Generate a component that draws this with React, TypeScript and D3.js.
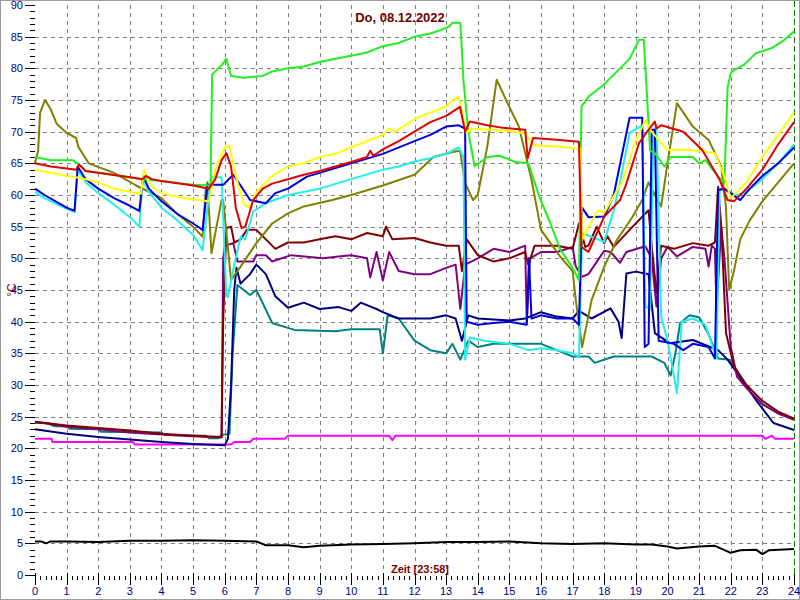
import React from "react";
import * as d3 from "d3";

type P = [number, number];

const yTicks = [0, 5, 10, 15, 20, 25, 30, 35, 40, 45, 50, 55, 60, 65, 70, 75, 80, 85, 90];
const xTicks = d3.range(0, 25);
const title = "Do, 08.12.2022";
const xTitle = "Zeit [23:58]";
const yTitle = "°C";

const green: P[] = [[0,66],[0.5,65.5],[1.2,65.5],[1.4,64.8],[1.6,63.8],[2,63.5],[3,62.8],[3.4,62.5],[4,62.2],[5,61.6],[5.55,61.5],[5.6,79],[5.9,80.5],[6.05,81.5],[6.2,78.8],[6.6,78.5],[7.2,78.8],[7.5,79.5],[8,80],[8.5,80.3],[9,81],[9.5,81.5],[10,82],[10.5,82.5],[11,83.5],[11.5,84],[12,85],[12.5,85.5],[12.8,86],[13.1,86.6],[13.2,87.2],[13.45,87.2],[13.55,78],[13.7,70],[13.9,64.5],[14.3,66],[14.7,66.2],[15.2,65.2],[15.6,65],[15.95,59.7],[16.3,55.5],[16.6,51.5],[17.0,48.5],[17.2,46.5],[17.28,74],[17.5,75.5],[18,77.5],[18.5,80],[18.8,81.5],[19.1,84.5],[19.25,84.5],[19.45,67],[19.6,66.6],[19.9,64.5],[20.1,66],[20.8,66],[21,65],[21.2,65.5],[21.6,62.9],[21.8,62],[21.9,77],[22.0,79.2],[22.1,79.7],[22.4,80.5],[22.8,82.4],[23.3,83.2],[23.7,84.5],[24,85.8]];
const yellow: P[] = [[0,64],[0.5,63.5],[1,63],[1.3,62.8],[1.6,62.5],[2,62],[2.5,61],[3,60.5],[3.35,60.2],[3.45,64],[3.65,61.5],[4,60.3],[4.5,59.7],[5,59.3],[5.5,59],[5.7,64],[6.0,67.5],[6.15,67.8],[6.35,63],[6.6,58.5],[6.8,58],[7.0,60.5],[7.5,63],[8,64.5],[8.5,65],[9,66],[9.5,66.5],[10,67.5],[10.5,68.5],[11,69.5],[11.2,70.5],[11.4,70],[12,72],[12.5,73],[13,74],[13.2,75],[13.4,75.5],[13.55,72],[13.65,69.8],[13.8,70.5],[14.8,70.2],[15.5,69.7],[15.75,67.9],[16.6,67.6],[17.25,67.3],[17.3,52.9],[17.5,55],[17.8,57.6],[18.0,57.2],[18.6,62.4],[19,68.7],[19.3,71.8],[19.5,70],[20,67.1],[20.3,67.2],[21,67],[21.5,66.6],[21.8,62.9],[22,59.5],[22.5,62],[23,66],[23.5,69.5],[24,73.1]];
const red: P[] = [[0,65],[0.5,64.5],[1,64.2],[1.3,64],[1.4,64.8],[1.6,63.8],[2,63.5],[3,62.8],[3.4,62.5],[3.5,63],[3.7,62.5],[4,62.2],[5,61.5],[5.5,61],[5.7,62.5],[5.9,65.5],[6.05,66.6],[6.2,64.5],[6.35,58],[6.53,54.8],[6.65,55],[6.9,59.2],[7.2,61],[7.5,61.8],[8,62.5],[8.5,63.2],[9,63.8],[9.5,64.5],[10,65.2],[10.5,66],[10.6,67],[10.7,66.2],[11,67.2],[11.5,68.5],[12,70],[12.5,71.5],[13,72.5],[13.44,73.9],[13.6,70],[13.75,71.6],[14.3,71],[14.8,70.6],[15.5,70.3],[15.58,65.8],[15.75,69],[16.6,68.7],[17.2,68.4],[17.28,51.8],[17.5,51],[18,56.6],[18.5,59.2],[18.7,61.8],[19.1,68.2],[19.4,70.3],[19.6,71.6],[19.65,70.5],[19.8,71],[20.5,70],[21.1,67.1],[21.65,62.4],[21.9,59.2],[22.1,59],[22.5,61],[23,64],[23.5,68],[24,71.5]];
const blue: P[] = [[0,61],[0.3,60],[1,58],[1.25,57.5],[1.35,64.5],[1.6,62.5],[2,61],[2.5,59.5],[3,58.3],[3.3,57.5],[3.42,63],[3.6,61],[4,59],[4.5,57],[5,55.5],[5.3,54.5],[5.45,61.6],[5.95,61.6],[6.27,63.2],[6.5,61.5],[6.8,59.2],[7.3,58.7],[7.6,60.3],[8,61],[8.6,62.9],[9,63.5],[10,65],[11,66.5],[12,68.5],[12.5,69.5],[13,70.8],[13.4,71],[13.6,70.5],[13.65,40],[14,39.5],[14.5,39.8],[15,40],[15.55,39.5],[15.62,50],[15.7,40.5],[16,41],[16.5,40.5],[17,40.5],[17.2,39.5],[17.3,58],[17.5,56.5],[18,56.6],[18.3,60],[18.8,72.2],[19.2,72.2],[19.28,36],[19.4,36.5],[19.5,70.3],[19.6,70.3],[19.72,37],[20.2,36.5],[20.5,35.5],[20.8,36.5],[21.3,36],[21.5,34.2],[21.6,60.8],[21.8,61],[22.3,59.2],[22.6,61],[23,63],[23.5,65],[24,67.5]];
const cyan: P[] = [[0,60.5],[0.3,59.5],[1,57.8],[1.25,57.3],[1.35,64],[1.6,62],[2,60.3],[2.5,58.5],[3,56.5],[3.3,55],[3.4,62.5],[3.6,60.5],[4,58],[4.5,56],[5,53.7],[5.3,51.3],[5.5,60],[5.6,62.8],[5.9,62.8],[6.05,44],[6.1,43.9],[6.3,49],[6.5,53.4],[6.65,53],[6.9,57.4],[7.3,58.7],[8,60],[9,61],[10,62.5],[11,64],[11.5,64.5],[12,65.3],[12.5,65.8],[13,66.5],[13.4,67.5],[13.55,66],[13.6,34],[13.75,37.5],[14.2,37],[15,36.5],[15.6,35.5],[16,35.8],[16.5,35.5],[17,35],[17.2,34.5],[17.3,54],[18,52.6],[18.3,57.6],[18.5,62],[18.8,69.8],[19.2,71],[19.3,42.4],[19.45,42],[19.55,69.2],[19.65,71],[19.8,40.8],[20,37],[20.3,28.7],[20.45,40],[20.8,40.5],[21.2,39.5],[21.55,34.2],[21.65,61],[22.2,60],[22.5,60.5],[23,62.5],[23.5,65],[24,68]];
const olive: P[] = [[0,65],[0.1,67],[0.16,73],[0.32,75],[0.5,73.5],[0.68,71.3],[1,69.8],[1.3,69],[1.37,67.6],[1.7,65],[2.5,63.5],[3.2,61.5],[4,59.5],[4.5,57],[5,55],[5.3,53.4],[5.4,61],[5.45,62],[5.58,50.8],[5.9,59.2],[5.95,59.2],[6.2,46.6],[6.5,48.7],[7,52.4],[7.5,55.5],[8,57.1],[8.5,58.2],[9.4,59.2],[10,60],[11,61.5],[12,63.2],[12.6,66],[13.2,66.8],[13.44,67],[13.6,61.9],[13.85,59.2],[14.0,60],[14.3,67.6],[14.6,78.2],[15.0,73.9],[15.3,70.8],[15.7,62.4],[16,54.5],[16.6,50.3],[17,48],[17.1,43.4],[17.3,36],[17.6,43.4],[18,48.7],[18.4,52.9],[18.9,56.6],[19.2,59.2],[19.4,62],[19.6,60],[19.8,58.2],[20.0,65],[20.3,74.5],[20.8,70.8],[21.3,68.7],[21.7,64.5],[21.85,58],[21.95,45],[22.1,48],[22.3,53],[22.6,56],[23,59],[23.5,62],[24,65]];
const maroon: P[] = [[0,24.2],[1,23.6],[2,23.2],[3,22.8],[4,22.3],[5,22],[5.9,21.8],[5.95,40],[6.05,54.8],[6.2,55],[6.3,52.5],[6.5,53],[6.7,54.5],[7,54.5],[7.3,53],[7.6,51.5],[8,52.5],[8.5,52.5],[9,53],[9.5,53.5],[10,53],[10.5,54],[11,53.5],[11.1,55],[11.3,53],[12,53.2],[12.5,52.5],[13,52],[13.4,52],[13.5,48],[13.65,53],[14,50.5],[14.5,49.5],[15,50],[15.5,51],[15.6,49],[15.8,52],[16.5,52],[17,51.5],[17.2,55.5],[17.4,51.8],[17.5,52],[17.76,55],[18,52.4],[18.1,53.5],[18.3,51.8],[18.8,54.5],[19.4,57.6],[19.5,52],[19.65,44.5],[19.8,52],[20.2,51.5],[20.8,52.4],[21.3,52],[21.5,52.5],[21.6,61.3],[21.7,55],[21.85,38.2],[22.1,33],[22.5,30],[23,27.5],[23.5,25.8],[24,24.7]];
const purple: P[] = [[0,24.2],[1,23.4],[2,23],[3,22.5],[4,22.2],[5,21.9],[5.9,21.7],[5.95,50],[6.0,52],[6.27,52.4],[6.4,49.5],[6.9,49.5],[7.0,50.5],[7.3,50.5],[7.5,49.5],[8.1,50.5],[9.1,50],[9.6,50.3],[10,50.5],[10.5,50],[10.6,47],[10.8,51],[11.0,46.5],[11.2,51],[11.5,48],[12,47.5],[12.5,47.5],[13,48.5],[13.3,49],[13.45,42],[13.6,49],[14,50],[14.5,51.5],[15,51],[15.5,52],[15.55,40],[15.65,50],[16,51],[16.5,51],[17,51.8],[17.1,48.7],[17.3,47.1],[17.5,47.5],[18,51.2],[18.2,51],[18.5,49.3],[18.7,51],[19.3,51.9],[19.5,50],[19.65,42.4],[19.8,50],[20,51.8],[20.3,50.3],[20.8,51.8],[21.2,51.5],[21.3,48.7],[21.4,52],[21.5,51.5],[21.55,41.8],[21.7,55],[21.8,50],[22.0,36],[22.2,31.3],[22.5,29.5],[23,27],[23.5,25.5],[24,24.5]];
const navy: P[] = [[0,23],[1,22.3],[2,21.8],[3,21.4],[4,21],[5,20.7],[6,20.5],[6.1,21.5],[6.2,30],[6.3,45],[6.37,48.5],[6.5,46],[6.8,47.5],[7.0,49],[7.3,47.5],[7.6,44],[8.0,42.2],[8.5,43],[9,42],[9.6,42.3],[10,41.7],[10.3,43],[10.8,42],[11,41.5],[11.5,40.5],[12,40.5],[12.5,40.5],[13,41],[13.3,40.5],[13.5,37],[13.7,41],[14,40.5],[15,40.2],[15.5,40.5],[16,41.5],[16.5,40.8],[17,40.5],[17.2,41.7],[17.6,40.5],[18.2,42.1],[18.45,40],[18.55,37.4],[18.7,47.6],[19,47.9],[19.4,47.5],[19.6,38.2],[20.07,36.6],[20.8,37.1],[21.6,35.5],[21.9,34],[22.2,31.9],[22.8,27.6],[23.35,24],[24,22.9]];
const teal: P[] = [[0,24],[0.4,24],[0.6,23.5],[1,23.5],[1.1,23.1],[2,23],[2.1,22.6],[4,22.5],[4.1,22.1],[5.4,22],[5.5,21.6],[5.8,21.6],[5.9,22.1],[6.15,22.3],[6.25,35],[6.4,45.8],[6.8,44.2],[7.0,45],[7.5,39.8],[8.2,38.7],[9.5,38.5],[10,38.8],[10.9,38.8],[11.0,35],[11.15,41],[11.5,40.5],[12,37],[12.5,35.5],[13,35],[13.2,36.5],[13.45,34],[13.7,37],[14,36],[14.5,36.5],[15,36.5],[16,36.5],[16.5,35.5],[17,34.5],[17.5,34.5],[17.7,33.5],[18.3,34.5],[19.5,34.5],[19.9,33.5],[20.1,31.5],[20.25,35],[20.4,39.8],[20.7,41],[21,40.7],[21.3,38],[21.6,34.2],[21.97,34],[22.2,32],[22.6,29],[23,27],[23.5,25.5],[24,24.7]];
const magenta: P[] = [[0,21.5],[0.53,21.5],[0.55,21.0],[3.1,21.0],[3.15,20.6],[6.2,20.6],[6.3,21.0],[6.8,21.0],[6.9,21.5],[7.9,21.5],[8.0,22.0],[11.2,22.0],[11.3,21.3],[11.4,22.0],[23.0,22.0],[23.1,21.5],[23.3,22.0],[23.4,21.5],[24,21.5]];
const black: P[] = [[0,5.3],[0.2,5.3],[0.35,5.0],[0.5,5.3],[1,5.3],[2,5.2],[3,5.4],[4,5.4],[5,5.5],[6,5.4],[7,5.3],[7.3,4.7],[8,4.7],[8.5,4.4],[9,4.6],[10,4.8],[11,4.9],[12,5.0],[13,5.2],[14,5.2],[15,5.3],[16,5.0],[17,4.9],[18,5.0],[19,4.8],[19.5,4.8],[20,4.5],[20.3,4.2],[21,4.5],[21.5,4.6],[22,3.5],[22.3,3.9],[22.8,4.0],[23,3.3],[23.2,3.9],[24,4.1]];

const seriesList: { data: P[]; color: string }[] = [
  { data: black, color: "#000000" },
  { data: magenta, color: "#ff00ff" },
  { data: teal, color: "#008080" },
  { data: navy, color: "#000080" },
  { data: purple, color: "#800080" },
  { data: maroon, color: "#800000" },
  { data: olive, color: "#808000" },
  { data: cyan, color: "#22eeee" },
  { data: blue, color: "#0000dd" },
  { data: green, color: "#22ee22" },
  { data: yellow, color: "#ffff00" },
  { data: red, color: "#e00000" },
];

export default function App() {
  const W = 800, H = 600;
  const x = d3.scaleLinear().domain([0, 24]).range([35, 794]);
  const y = d3.scaleLinear().domain([0, 90]).range([575, 5]);
  const line = d3.line<P>().x(d => x(d[0])).y(d => y(d[1]));
  const minorY = d3.range(0, 91, 1);
  const minorX = d3.range(0, 24 * 6 + 1).map(i => i / 6);
  const font = "Arial, 'Liberation Sans', sans-serif";
  return (
    <svg width={W} height={H} style={{ position: "fixed", left: 0, top: 0, background: "#fff" }} fontFamily={font}>
      <rect x={0.5} y={0.5} width={W - 1} height={H - 1} fill="#fff" stroke="#9a9a9a" />
      {yTicks.filter(t => t > 0 && t < 90).map(t => (
        <line key={"gy" + t} x1={x(0)} x2={x(24)} y1={Math.round(y(t)) + 0.5} y2={Math.round(y(t)) + 0.5} stroke="#808080" strokeDasharray="4,4" />
      ))}
      {xTicks.filter(t => t > 0 && t < 24).map(t => (
        <line key={"gx" + t} x1={Math.round(x(t)) + 0.5} x2={Math.round(x(t)) + 0.5} y1={y(90)} y2={y(0)} stroke="#808080" strokeDasharray="4,4" />
      ))}
      {minorY.map(t => (
        <line key={"my" + t} x1={t % 5 === 0 ? 25 : 30} x2={35} y1={Math.round(y(t)) + 0.5} y2={Math.round(y(t)) + 0.5} stroke="#000" />
      ))}
      {yTicks.map(t => (
        <text key={"ly" + t} x={23} y={y(t) + 4} textAnchor="end" fontSize={11} fill="#000080">{t}</text>
      ))}
      {minorX.map((t, i) => (
        <line key={"mx" + i} x1={Math.round(x(t)) + 0.5} x2={Math.round(x(t)) + 0.5} y1={i % 6 === 0 ? 573 : 576} y2={i % 6 === 0 ? 585 : 580} stroke="#000" />
      ))}
      {xTicks.map(t => (
        <text key={"lx" + t} x={x(t)} y={595} textAnchor="middle" fontSize={11} fill="#000080">{t}</text>
      ))}
      <line x1={x(24) + 0.5} x2={x(24) + 0.5} y1={1} y2={y(0)} stroke="#008000" strokeDasharray="6,3" />
      {seriesList.map((s, i) => (
        <path key={"s" + i} d={line(s.data) || ""} fill="none" stroke={s.color} strokeWidth={2} strokeLinejoin="round" />
      ))}
      <text x={400} y={22} textAnchor="middle" fontSize={13} fontWeight="bold" fill="#700000">{title}</text>
      <text x={420} y={573} textAnchor="middle" fontSize={11} fontWeight="bold" fill="#800000">{xTitle}</text>
      <text transform="translate(16,290) rotate(-90)" textAnchor="middle" fontSize={12} fill="#800000">{yTitle}</text>
    </svg>
  );
}
